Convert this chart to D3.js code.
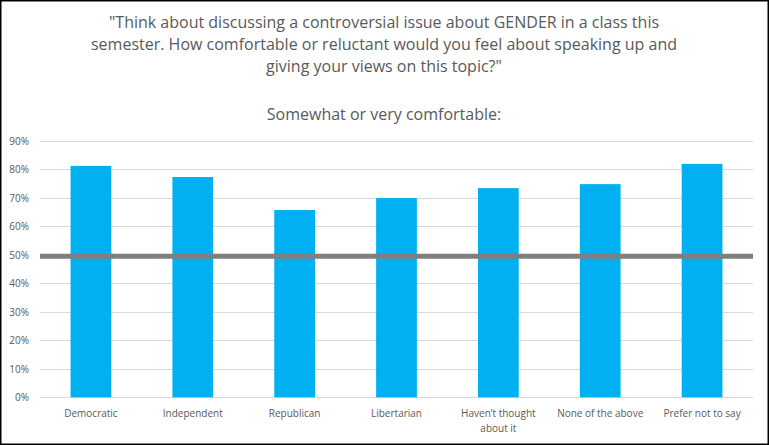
<!DOCTYPE html>
<html><head><meta charset="utf-8">
<script src="https://cdn.jsdelivr.net/npm/d3@7/dist/d3.min.js"></script>
<style>html,body{margin:0;padding:0;background:#fff;}svg{display:block;}</style>
</head><body>
<script>
const categories = ["Democratic","Independent","Republican","Libertarian","Haven\u2019t thought|about it","None of the above","Prefer not to say"];
const values = [0.812, 0.773, 0.657, 0.699, 0.734, 0.748, 0.819];
const referenceValue = 0.495;
const yTicks = [0,0.1,0.2,0.3,0.4,0.5,0.6,0.7,0.8,0.9];
const titleLines = ["\"Think about discussing a controversial issue about GENDER in a class this","semester. How comfortable or reluctant would you feel about speaking up and","giving your views on this topic?\""];
const subtitle = "Somewhat or very comfortable:";

const W = 769, H = 445;
const m = {left:40, right:16, top:141, bottom:48};
const svg = d3.select("body").append("svg").attr("width",W).attr("height",H);
svg.append("rect").attr("x",0.75).attr("y",0.75).attr("width",W-1.5).attr("height",H-1.5).attr("fill","#fff").attr("stroke","#000").attr("stroke-width",1.5);

const x = d3.scaleBand().domain(categories).range([m.left, W-m.right]).paddingInner(0.6).paddingOuter(0.3);
const y = d3.scaleLinear().domain([0,0.9]).range([397.3, 140.8]);

const font = "'Open Sans', sans-serif";
svg.append("g").selectAll("line").data(yTicks).join("line")
  .attr("x1", m.left).attr("x2", W-m.right)
  .attr("y1", d=>Math.round(y(d))+0.5).attr("y2", d=>Math.round(y(d))+0.5)
  .attr("stroke","#d9d9d9").attr("stroke-width",1);

const yAxis = d3.axisLeft(y).tickValues(yTicks).tickFormat(d3.format(".0%")).tickSize(0).tickPadding(11);
const ga = svg.append("g").attr("transform",`translate(${m.left},0)`).call(yAxis);
ga.select(".domain").remove();
ga.selectAll("text").attr("fill","#595959").style("font-family",font).style("font-size","10px");

svg.append("g").selectAll("rect").data(values).join("rect")
  .attr("x",(d,i)=>x(categories[i])).attr("width",x.bandwidth())
  .attr("y",d=>y(d)).attr("height",d=>y(0)-y(d)).attr("fill","#00b0f0");

svg.append("line").attr("x1",m.left).attr("x2",W-m.right)
  .attr("y1",y(referenceValue)).attr("y2",y(referenceValue))
  .attr("stroke","#7f7f7f").attr("stroke-width",5);

const xAxis = d3.axisBottom(x).tickSize(0).tickFormat(()=>"");
const gx = svg.append("g").attr("transform",`translate(0,${Math.round(y(0))+0.5})`).call(xAxis);
gx.select(".domain").remove();
svg.append("g").selectAll("text").data(categories).join("text")
  .attr("text-anchor","middle").attr("fill","#595959").style("font-family",font).style("font-size","10px")
  .attr("transform",d=>`translate(${x(d)+x.bandwidth()/2},417)`)
  .each(function(d){
    d.split("|").forEach((s,i)=>{
      d3.select(this).append("tspan").attr("x",0).attr("dy",i?15:0).text(s);
    });
  });

svg.append("g").selectAll("text").data(titleLines).join("text")
  .attr("x",384).attr("y",(d,i)=>28+i*22).attr("text-anchor","middle")
  .attr("fill","#595959").style("font-family",font).style("font-size","16px").text(d=>d);
svg.append("text").attr("x",384).attr("y",120).attr("text-anchor","middle")
  .attr("fill","#595959").style("font-family",font).style("font-size","16px").text(subtitle);
</script>
</body></html>
